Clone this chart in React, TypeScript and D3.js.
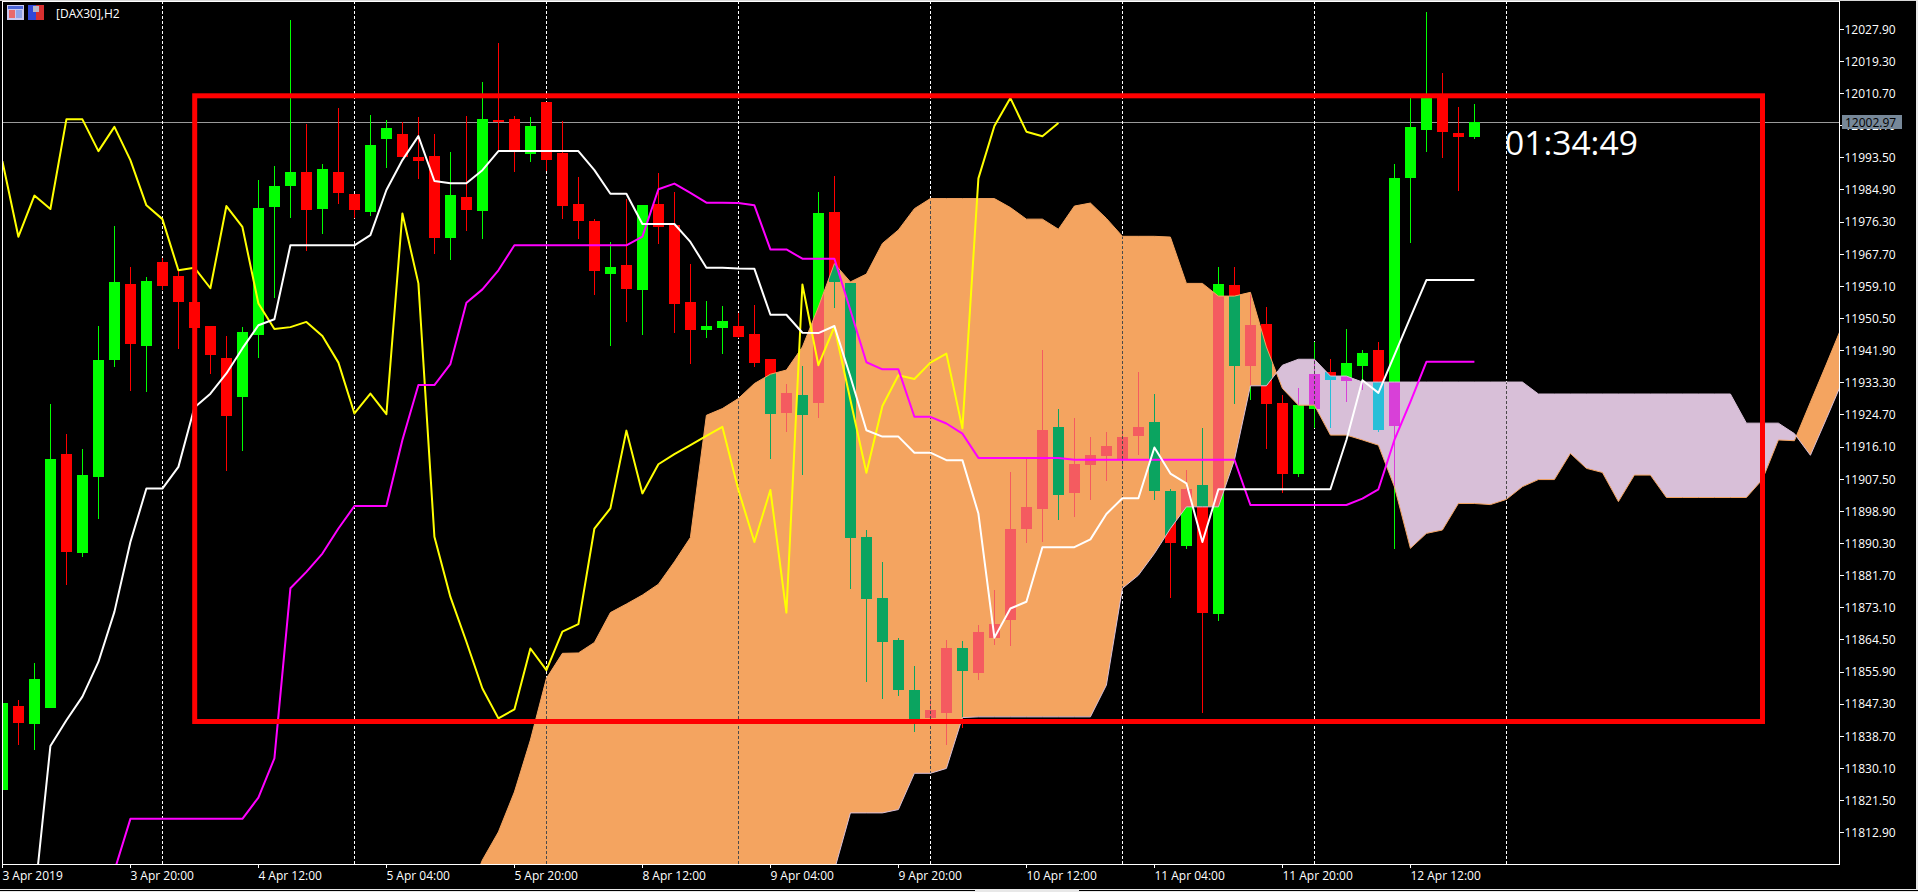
import React from 'react';
import * as d3 from 'd3';

const opens = [11824.3,11846.9,11842.0,11846.3,11914.2,11887.8,11908.1,11939.4,11959.7,11943.2,11965.6,11961.8,11954.9,11948.5,11939.9,11929.6,11946.1,11980.4,11985.9,11989.7,11979.8,11989.7,11983.8,11979.0,11998.5,11999.8,11993.7,11994.0,11972.0,11983.0,11979.2,12003.6,12003.9,11994.5,12008.4,11994.8,11981.1,11976.6,11962.4,11964.8,11958.1,11981.1,11975.5,11954.9,11947.4,11947.9,11948.5,11946.3,11939.6,11925.2,11930.0,11927.9,11979.0,11960.0,11892.0,11875.7,11864.4,11851.1,11843.6,11844.9,11862.3,11855.7,11865.0,11869.8,11894.1,11899.5,11921.4,11903.9,11911.3,11913.7,11912.9,11919.0,11922.8,11904.3,11889.6,11905.9,11871.4,11959.4,11937.8,11949.0,11927.8,11908.9,11926.3,11936.2,11933.7,11937.8,11942.0,11921.7,11988.1,12000.9,12010.0,12000.1,11999.0];
const highs = [11847.5,11848.4,11858.2,11927.6,11919.7,11915.5,11948.5,11975.2,11964.3,11961.7,11966.6,11963.4,11956.8,11948.5,11945.8,11948.1,11987.5,11991.3,12030.3,12002.5,11991.8,12006.8,11983.8,12004.9,12003.6,12003.1,12004.3,11999.8,11995.0,12004.7,12013.8,12024.2,12004.7,12004.4,12008.4,12003.3,11988.3,11977.1,11970.9,11982.4,11980.8,11989.4,11984.3,11965.1,11955.2,11953.8,11951.9,11954.1,11939.6,11933.1,11937.8,11984.3,11988.6,11960.0,11893.9,11885.4,11864.9,11857.5,11849.3,11864.6,11864.2,11868.6,11877.8,11909.4,11913.0,11942.0,11926.3,11923.8,11918.8,11920.0,11921.2,11936.2,11930.4,11905.0,11909.9,11921.3,11964.3,11964.3,11957.2,11953.5,11930.0,11931.8,11944.3,11939.8,11947.7,11942.0,11944.3,11991.8,12009.5,12032.5,12016.2,12007.0,12007.9];
const lows = [11824.3,11836.3,11835.0,11846.3,11879.2,11886.6,11896.8,11937.6,11931.2,11930.9,11958.1,11942.4,11943.4,11935.6,11909.7,11915.0,11940.0,11956.0,11977.4,11968.6,11973.1,11981.1,11977.4,11977.9,11990.7,11993.7,11987.8,11967.7,11966.1,11973.9,11971.7,11995.6,11989.7,11992.3,11989.9,11977.1,11971.7,11956.8,11943.1,11949.5,11946.1,11970.4,11946.6,11938.3,11945.3,11941.0,11945.3,11937.6,11913.0,11920.1,11908.6,11923.8,11953.3,11878.1,11853.3,11848.6,11849.5,11839.8,11842.1,11836.3,11840.8,11853.7,11863.1,11862.8,11890.3,11890.7,11896.5,11897.4,11901.9,11907.1,11910.4,11913.9,11901.9,11875.6,11888.9,11844.8,11869.5,11927.6,11928.8,11915.7,11903.7,11908.0,11921.1,11921.3,11928.1,11931.3,11920.1,11888.9,11970.6,11995.0,11993.4,11984.6,11998.5];
const closes = [11847.5,11842.3,11853.9,11912.9,11888.1,11908.6,11939.4,11960.2,11943.6,11960.5,11959.3,11955.0,11947.9,11940.7,11924.4,11946.9,11980.0,11985.9,11989.7,11979.5,11990.5,11984.1,11979.5,11996.9,12001.4,11993.7,11992.6,11972.0,11983.5,11979.5,12003.9,12003.3,11995.6,12002.0,11992.9,11980.6,11976.6,11963.2,11964.3,11958.4,11980.8,11975.0,11954.3,11947.4,11948.5,11949.8,11945.5,11938.6,11924.9,11930.5,11924.6,11978.7,11960.2,11891.8,11875.4,11863.9,11851.1,11842.1,11845.7,11862.3,11856.2,11866.6,11868.7,11894.1,11900.0,11920.6,11903.2,11911.5,11913.9,11916.4,11918.8,11921.4,11904.4,11890.4,11904.8,11871.7,11959.7,11937.8,11948.7,11927.6,11909.0,11927.3,11935.6,11934.0,11938.6,11941.2,11920.6,11988.1,12001.7,12009.5,12000.4,11999.0,12003.1];

// tenkan starts on bar 2, kijun on bar 7, chikou on bar 0, both spans on bar 29
const tenkanStart = 2;
const tenkan = [11795.0,11836.1,11843.0,11849.3,11858.6,11872.0,11890.7,11905.0,11905.0,11910.8,11926.7,11930.4,11935.8,11942.5,11948.7,11950.3,11970.1,11970.1,11970.1,11970.1,11970.1,11972.8,11984.9,11992.9,11999.3,11987.3,11986.7,11986.7,11990.2,11995.3,11995.3,11995.3,11995.3,11995.3,11995.3,11990.2,11983.9,11983.9,11975.8,11975.8,11975.8,11971.0,11964.1,11964.1,11963.9,11963.8,11951.5,11951.5,11946.7,11946.6,11948.5,11934.9,11920.6,11918.9,11918.9,11914.6,11914.6,11912.6,11912.6,11898.3,11865.1,11872.9,11874.7,11889.3,11889.3,11889.3,11891.4,11898.2,11902.4,11902.4,11916.0,11909.0,11906.4,11890.7,11904.8,11904.8,11904.8,11904.8,11904.8,11904.8,11904.8,11904.8,11918.0,11934.0,11930.6,11940.7,11950.8,11960.8,11960.8,11960.8,11960.8];
const kijunStart = 7;
const kijun = [11802.7,11816.6,11816.6,11816.6,11816.6,11816.6,11816.6,11816.6,11816.6,11822.3,11832.8,11878.3,11882.7,11887.6,11894.3,11900.3,11900.3,11900.3,11918.0,11932.7,11932.7,11938.3,11954.7,11958.3,11963.4,11970.1,11970.1,11970.1,11970.1,11970.1,11970.1,11970.1,11970.1,11972.4,11985.1,11986.6,11984.1,11981.5,11981.5,11981.4,11980.8,11969.0,11969.0,11966.5,11966.5,11966.5,11952.7,11938.8,11936.9,11936.9,11924.2,11924.2,11922.4,11919.7,11913.2,11913.2,11913.2,11913.2,11913.2,11913.2,11912.7,11912.7,11912.7,11912.7,11912.7,11912.7,11912.7,11912.7,11912.7,11912.7,11912.7,11900.6,11900.6,11900.6,11900.6,11900.6,11900.6,11900.6,11902.3,11904.8,11918.0,11928.2,11938.9,11938.9,11938.9,11938.9];
const chikou = [11992.6,11972.4,11983.4,11979.8,12003.8,12003.8,11995.3,12001.8,11992.9,11980.8,11977.1,11963.4,11964.1,11958.6,11980.6,11975.0,11954.5,11947.7,11948.2,11949.6,11945.8,11938.7,11925.1,11930.4,11924.9,11978.6,11959.9,11892.1,11876.0,11864.0,11851.5,11843.5,11845.9,11862.2,11856.4,11866.7,11868.7,11894.3,11899.7,11920.5,11903.7,11911.5,11914.2,11916.6,11919.1,11921.5,11904.6,11890.7,11904.6,11871.8,11959.6,11938.0,11948.3,11928.7,11909.2,11927.1,11935.3,11934.3,11938.7,11941.1,11921.1,11988.0,12002.0,12009.5,12000.5,11999.3,12002.8];
const spanStart = 29;
const spanA = [11794.9,11805.6,11813.1,11823.8,11837.7,11854.2,11860.9,11861.0,11863.8,11871.8,11874.1,11876.5,11879.4,11885.4,11891.9,11924.6,11926.4,11929.1,11933.1,11935.6,11936.7,11942.9,11953.6,11965.2,11960.3,11962.4,11970.6,11974.2,11979.9,11982.6,11982.6,11982.6,11982.6,11982.6,11980.2,11977.1,11977.1,11974.4,11980.6,11981.4,11977.3,11972.5,11972.5,11972.5,11972.3,11959.9,11959.9,11956.5,11956.5,11957.5,11942.9,11931.8,11927.3,11927.3,11919.3,11919.3,11918.0,11916.6,11905.5,11889.0,11893.0,11893.9,11901.0,11901.0,11900.7,11902.1,11905.5,11907.4,11907.4,11914.4,11910.4,11909.3,11901.5,11908.6,11908.6,11902.6,11902.6,11902.6,11902.6,11902.6,11902.6,11907.4,11918.0,11917.8,11928.1,11938.3,11948.7];
const spanB = [11768.1,11768.1,11768.1,11768.1,11768.1,11768.1,11768.1,11768.1,11768.1,11768.1,11768.1,11768.1,11768.1,11768.1,11768.1,11768.1,11768.1,11768.1,11768.1,11768.1,11768.1,11768.1,11785.9,11802.9,11818.2,11818.2,11818.2,11819.1,11828.8,11828.8,11830.1,11843.7,11843.9,11843.9,11843.9,11843.9,11843.9,11843.9,11843.9,11843.9,11852.4,11878.3,11881.8,11887.6,11894.3,11900.1,11900.1,11900.1,11912.6,11932.5,11932.5,11938.0,11939.6,11939.6,11935.1,11935.1,11933.5,11933.5,11933.5,11933.5,11933.5,11933.5,11933.5,11933.5,11933.5,11933.5,11933.5,11930.3,11930.3,11930.3,11930.3,11930.3,11930.3,11930.3,11930.3,11930.3,11930.3,11930.3,11930.3,11930.3,11922.5,11922.5,11922.5,11919.7,11913.9,11923.7,11933.7];

const priceLabels = ['12027.90','12019.30','12010.70','12002.10','11993.50','11984.90','11976.30','11967.70','11959.10','11950.50','11941.90','11933.30','11924.70','11916.10','11907.50','11898.90','11890.30','11881.70','11873.10','11864.50','11855.90','11847.30','11838.70','11830.10','11821.50','11812.90'];
const timeLabels = ['3 Apr 2019','3 Apr 20:00','4 Apr 12:00','5 Apr 04:00','5 Apr 20:00','8 Apr 12:00','9 Apr 04:00','9 Apr 20:00','10 Apr 12:00','11 Apr 04:00','11 Apr 20:00','12 Apr 12:00'];
const gridBars = [10, 22, 34, 46, 58, 70, 82, 94];
const lastPrice = 12002.97;

const plot = { left: 2.5, right: 1839, top: 1, bottom: 864 };
const UP = '#00ff00';
const DOWN = '#ff0000';
const FONT = '"Open Sans", "Liberation Sans", sans-serif';

const x = d3.scaleLinear().domain([0, 92]).range([2.4, 1474.4]);
const y = d3.scaleLinear().domain([11812.9, 12027.9]).range([832.7, 29.3]);

type Pt = { i: number; v: number };
type Band = { i: number; a: number; b: number };

const line = d3.line<Pt>().x(d => x(d.i)).y(d => y(d.v));
const toPts = (vals: number[], start: number): Pt[] => vals.map((v, k) => ({ i: start + k, v }));

// split the kumo where the two spans cross, so each part gets its own colour
function kumoRuns() {
  const runs: { up: boolean; pts: Band[] }[] = [];
  spanA.forEach((a, k) => {
    const b = spanB[k];
    const i = spanStart + k;
    const up = a >= b;
    const last = runs[runs.length - 1];
    if (!last) { runs.push({ up, pts: [{ i, a, b }] }); return; }
    if (last.up === up) { last.pts.push({ i, a, b }); return; }
    const p = last.pts[last.pts.length - 1];
    const t = (p.a - p.b) / ((p.a - p.b) - (a - b));
    const cross = { i: p.i + t, a: p.a + t * (a - p.a), b: p.a + t * (a - p.a) };
    last.pts.push(cross);
    runs.push({ up, pts: [cross, { i, a, b }] });
  });
  return runs;
}

const kumoArea = d3.area<Band>().x(d => x(d.i)).y0(d => y(d.b)).y1(d => y(d.a));

export default function App() {
  const runs = kumoRuns();
  return (
    <svg width={1918} height={892} viewBox="0 0 1918 892" style={{ position: 'fixed', left: 0, top: 0, isolation: 'isolate', display: 'block' }}>
      <style>{'body{margin:0;background:#000}'}</style>
      <defs>
        <clipPath id="plotClip">
          <rect x={plot.left} y={plot.top} width={plot.right - plot.left} height={plot.bottom - plot.top} />
        </clipPath>
        <clipPath id="kumoClip">
          {runs.map((r, k) => <path key={k} d={kumoArea(r.pts) ?? ''} />)}
        </clipPath>
      </defs>
      <rect width={1918} height={892} fill="#000" />

      <g clipPath="url(#plotClip)" style={{ isolation: 'isolate' }}>
        <rect x={0} y={0} width={1918} height={892} fill="#000" />
        <line x1={plot.left} x2={plot.right} y1={y(lastPrice)} y2={y(lastPrice)} stroke="#9a9a9a" strokeWidth={1} shapeRendering="crispEdges" />
        {gridBars.map(b => (
          <line key={b} x1={x(b)} x2={x(b)} y1={plot.top} y2={plot.bottom} stroke="#fff" strokeWidth={1} strokeDasharray="3 2" shapeRendering="crispEdges" />
        ))}
        {opens.map((o, i) => {
          const c = closes[i];
          const color = c >= o ? UP : DOWN;
          const top = y(Math.max(o, c));
          const h = Math.max(2, y(Math.min(o, c)) - top);
          return (
            <g key={i} shapeRendering="crispEdges">
              <line x1={x(i)} x2={x(i)} y1={y(highs[i])} y2={y(lows[i])} stroke={color} strokeWidth={1} />
              <rect x={x(i) - 5.5} y={top} width={11} height={h} fill={color} />
            </g>
          );
        })}
        {/* candles invert under the cloud like the terminal's XOR fill */}
        <g style={{ mixBlendMode: 'difference' }}>
          {runs.map((r, k) => (
            <path key={k} d={kumoArea(r.pts) ?? ''} fill={r.up ? '#f4a460' : '#d8bfd8'} />
          ))}
        </g>
        {/* grid reads as dark grey inside the cloud, not the raw inverted blue */}
        <g clipPath="url(#kumoClip)">
          {gridBars.map(b => (
            <line key={b} x1={x(b)} x2={x(b)} y1={plot.top} y2={plot.bottom} stroke="#4a4a4a" strokeWidth={1} strokeDasharray="3 2" shapeRendering="crispEdges" />
          ))}
        </g>
        <path d={line(toPts(spanA, spanStart)) ?? ''} fill="none" stroke="#f4a460" strokeWidth={1} />
        <path d={line(toPts(spanB, spanStart)) ?? ''} fill="none" stroke="#d8bfd8" strokeWidth={1} />
        <path d={line(toPts(chikou, 0)) ?? ''} fill="none" stroke="#ffff00" strokeWidth={2} strokeLinejoin="round" />
        <path d={line(toPts(kijun, kijunStart)) ?? ''} fill="none" stroke="#ff00ff" strokeWidth={2} strokeLinejoin="round" />
        <path d={line(toPts(tenkan, tenkanStart)) ?? ''} fill="none" stroke="#ffffff" strokeWidth={2} strokeLinejoin="round" />
      </g>

      <rect x={194.7} y={95.8} width={1567.8} height={625.7} fill="none" stroke="#ff0000" strokeWidth={5} />

      <text x={1505} y={155} fill="#fff" fontFamily={FONT} fontSize={33.6}>01:34:49</text>

      {/* window frame */}
      <path d={`M${plot.left - 0.5},1 H${plot.right + 0.5} V${plot.bottom + 0.5} H${plot.left - 0.5} Z`} fill="none" stroke="#fff" strokeWidth={1} shapeRendering="crispEdges" />
      <rect x={0} y={0} width={1918} height={1} fill="#d8d8d8" />
      <rect x={1916} y={0} width={2} height={892} fill="#e8e8e8" />
      <rect x={0} y={889} width={1918} height={3} fill="#e8e8e8" />
      <rect x={0} y={890} width={975} height={1} fill="#000" />
      <rect x={1079} y={890} width={839} height={1} fill="#000" />

      {priceLabels.map(l => (
        <g key={l} shapeRendering="crispEdges">
          <line x1={plot.right} x2={plot.right + 5} y1={y(+l)} y2={y(+l)} stroke="#fff" />
          <text x={plot.right + 5.5} y={y(+l) + 4.3} fill="#fff" fontFamily={FONT} fontSize={12}>{l}</text>
        </g>
      ))}
      <rect x={1842} y={115} width={60} height={14} fill="#778899" />
      <text x={1845} y={y(lastPrice) + 4.3} fill="#000" fontFamily={FONT} fontSize={12}>{lastPrice.toFixed(2)}</text>

      {timeLabels.map((l, k) => (
        <g key={l} shapeRendering="crispEdges">
          <line x1={x(k * 8)} x2={x(k * 8)} y1={plot.bottom} y2={plot.bottom + 4} stroke="#fff" />
          <text x={x(k * 8)} y={879.5} fill="#fff" fontFamily={FONT} fontSize={12}>{l}</text>
        </g>
      ))}

      <text x={56} y={17.5} fill="#fff" fontFamily={FONT} fontSize={12}>[DAX30],H2</text>
      <g shapeRendering="crispEdges">
        <rect x={7} y={5} width={17} height={15} fill="#c8c8f0" />
        <rect x={8} y={6} width={15} height={3} fill="#4a66d8" />
        <rect x={9} y={10} width={6} height={8} fill="#e86a6a" />
        <rect x={16} y={10} width={6} height={8} fill="#8fa4e8" />
        <rect x={28} y={5} width={8} height={15} fill="#3048d8" />
        <rect x={36} y={5} width={8} height={15} fill="#d83030" />
        <rect x={33} y={6} width={6} height={6} fill="#b8b8c8" />
      </g>
    </svg>
  );
}
